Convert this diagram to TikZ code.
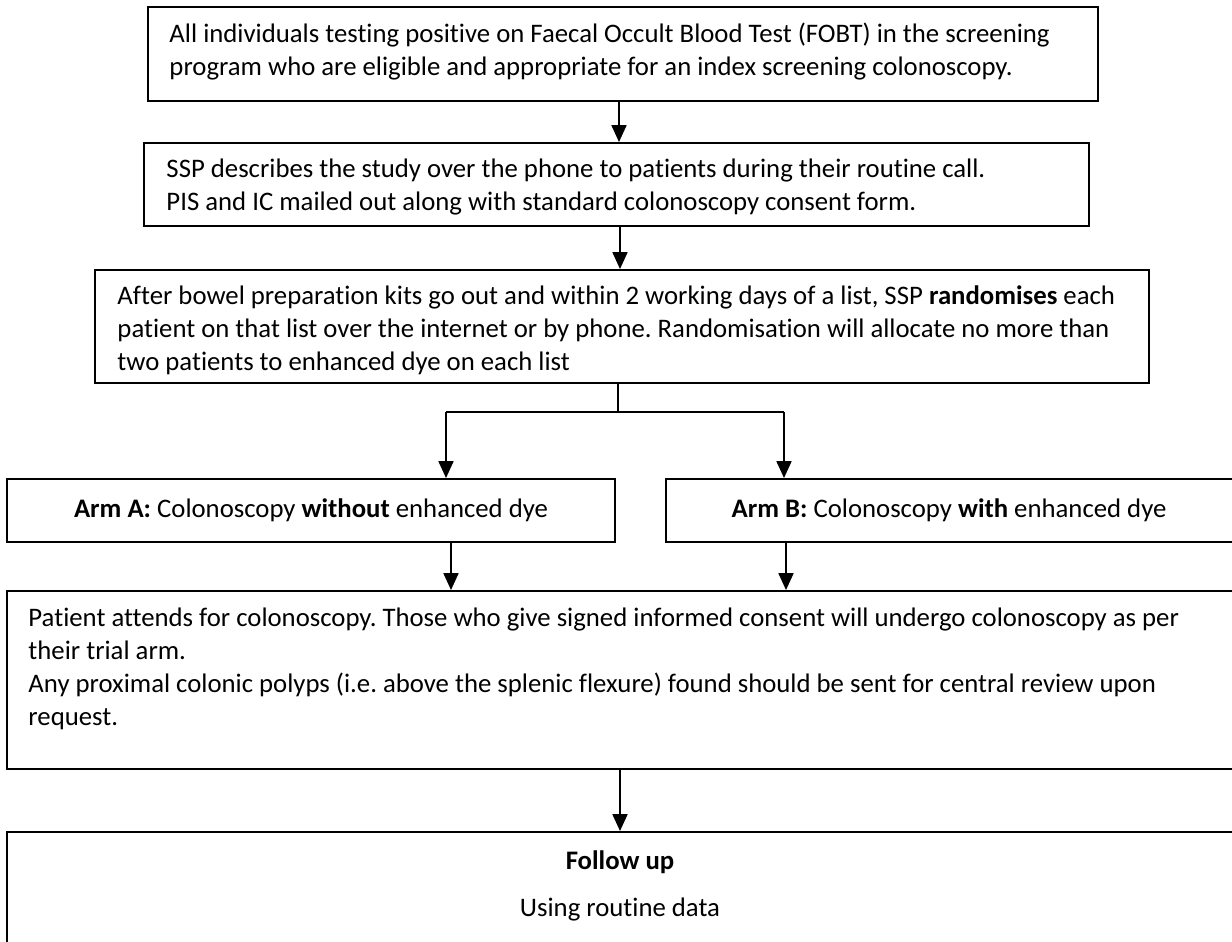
\documentclass[tikz,border=0pt]{standalone}
\usepackage{fontspec}
\setmainfont{Carlito}[Ligatures=NoCommon]
\usetikzlibrary{arrows.meta,fit}
\frenchspacing
\begin{document}
\begin{tikzpicture}[x=0.415pt,y=-0.415pt,
  every node/.style={font=\fontsize{11.1}{13.7}\selectfont},
  box/.style={draw, line width=0.8pt, rectangle, inner sep=0pt},
  txt/.style={inner sep=0pt, align=left, anchor=west},
  ctxt/.style={inner sep=0pt, align=center},
  arr/.style={line width=0.8pt, -{Triangle[width=6.2pt,length=7pt]}},
  thinline/.style={line width=0.5pt}]
\useasboundingbox (0,0) rectangle (1232,942);
\clip (0,0) rectangle (1232,942);
% boxes
\node[box, fit={(148,7) (1098,101)}] (b1) {};
\node[box, fit={(144,143) (1089,226)}] (b2) {};
\node[box, fit={(95,270) (1149,383)}] (b3) {};
\node[box, fit={(7,479) (615,542)}] (armA) {};
\node[box, fit={(666,479) (1238,542)}] (armB) {};
\node[box, fit={(7,591) (1238,769)}] (pat) {};
\node[box, fit={(7,832) (1238,962)}] (fol) {};
% texts
\node[txt] (t1) at (169,51.5) {All individuals testing positive on Faecal Occult Blood Test (FOBT) in the screening\\program who are eligible and appropriate for an index screening colonoscopy.};
\node[txt] (t2) at (166,187.5) {SSP describes the study over the phone to patients during their routine call.\\PIS and IC mailed out along with standard colonoscopy consent form.};
\node[txt] (t3) at (117,330.5) {After bowel preparation kits go out and within 2 working days of a list, SSP \textbf{randomises} each\\patient on that list over the internet or by phone. Randomisation will allocate no more than\\two patients to enhanced dye on each list};
\node[ctxt] (tA) at (311,510) {\textbf{Arm A:} Colonoscopy \textbf{without} enhanced dye};
\node[ctxt] (tB) at (949,510) {\textbf{Arm B:} Colonoscopy \textbf{with} enhanced dye};
\node[txt] (tP) at (28,668.5) {Patient attends for colonoscopy. Those who give signed informed consent will undergo colonoscopy as per\\their trial arm.\\Any proximal colonic polyps (i.e. above the splenic flexure) found should be sent for central review upon\\request.};
\node[ctxt] (tF1) at (620,862) {\textbf{Follow up}};
\node[ctxt] (tF2) at (620,910) {Using routine data};
% connectors
\coordinate (c1) at (619,0);
\coordinate (c2) at (620,0);
\coordinate (sx) at (618,412);
\coordinate (sl) at (446,412);
\coordinate (sr) at (784,412);
\coordinate (ca) at (451,0);
\coordinate (cb) at (786,0);
\coordinate (cp) at (620,0);
\draw[arr] (b1.south -| c1) -- (b2.north -| c1);
\draw[arr] (b2.south -| c2) -- (b3.north -| c2);
\draw[thinline] (b3.south -| sx) -- (sx);
\draw[thinline] (sl) -- (sr);
\draw[arr] (sl) -- (armA.north -| sl);
\draw[arr] (sr) -- (armB.north -| sr);
\draw[arr] (armA.south -| ca) -- (pat.north -| ca);
\draw[arr] (armB.south -| cb) -- (pat.north -| cb);
\draw[arr] (pat.south -| cp) -- (fol.north -| cp);
\end{tikzpicture}
\end{document}
